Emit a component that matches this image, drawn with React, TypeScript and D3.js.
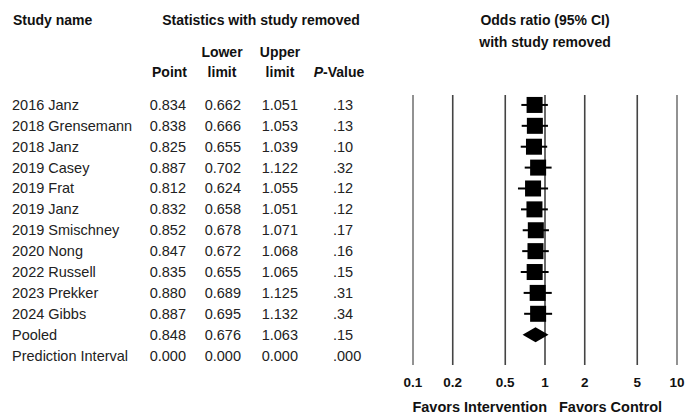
import React from "react";
import { scaleLog, scaleBand } from "d3";

const studies = [
  "2016 Janz",
  "2018 Grensemann",
  "2018 Janz",
  "2019 Casey",
  "2019 Frat",
  "2019 Janz",
  "2019 Smischney",
  "2020 Nong",
  "2022 Russell",
  "2023 Prekker",
  "2024 Gibbs",
  "Pooled",
  "Prediction Interval",
];
const pointVals = [0.834, 0.838, 0.825, 0.887, 0.812, 0.832, 0.852, 0.847, 0.835, 0.88, 0.887, 0.848, 0];
const lowerVals = [0.662, 0.666, 0.655, 0.702, 0.624, 0.658, 0.678, 0.672, 0.655, 0.689, 0.695, 0.676, 0];
const upperVals = [1.051, 1.053, 1.039, 1.122, 1.055, 1.051, 1.071, 1.068, 1.065, 1.125, 1.132, 1.063, 0];
const pLabels = [".13", ".13", ".10", ".32", ".12", ".12", ".17", ".16", ".15", ".31", ".34", ".15", ".000"];
const tickVals = [0.1, 0.2, 0.5, 1, 2, 5, 10];

const FONT = "'Liberation Sans', Arial, sans-serif";

export default function App() {
  const x = scaleLog().domain([0.1, 10]).range([413, 677]);
  const y = scaleBand<number>()
    .domain(studies.map((_, i) => i))
    .range([94.5, 366])
    .paddingInner(0)
    .paddingOuter(0);
  const rowY = (i: number) => (y(i) as number) + y.bandwidth() / 2;
  const box = 16;
  const fmt = (v: number) => v.toFixed(3);

  return (
    <svg
      width={689}
      height={417}
      style={{ position: "absolute", left: 0, top: 0, background: "#fff" }}
      fontFamily={FONT}
    >
      {/* headers */}
      <g fontWeight="bold" fontSize={14} fill="#111">
        <text x={13} y={25}>Study name</text>
        <text x={261} y={25} textAnchor="middle">Statistics with study removed</text>
        <text x={222} y={57} textAnchor="middle">Lower</text>
        <text x={280} y={57} textAnchor="middle">Upper</text>
        <text x={187} y={77} textAnchor="end">Point</text>
        <text x={222} y={77} textAnchor="middle">limit</text>
        <text x={280} y={77} textAnchor="middle">limit</text>
        <text x={339} y={77} textAnchor="middle">
          <tspan fontStyle="italic">P</tspan>-Value
        </text>
        <text x={545} y={25} textAnchor="middle">Odds ratio (95% CI)</text>
        <text x={545} y={47} textAnchor="middle">with study removed</text>
      </g>

      {/* table rows */}
      <g fontSize={14.5} fill="#222">
        {studies.map((s, i) => (
          <g key={s}>
            <text x={12} y={rowY(i) + 5}>{s}</text>
            <text x={186} y={rowY(i) + 5} textAnchor="end">{fmt(pointVals[i])}</text>
            <text x={241} y={rowY(i) + 5} textAnchor="end">{fmt(lowerVals[i])}</text>
            <text x={298} y={rowY(i) + 5} textAnchor="end">{fmt(upperVals[i])}</text>
            <text x={333} y={rowY(i) + 5}>{pLabels[i]}</text>
          </g>
        ))}
      </g>

      {/* reference lines */}
      {tickVals.map((t) => (
        <line
          key={t}
          x1={x(t)}
          x2={x(t)}
          y1={95}
          y2={365}
          stroke={t === 0.1 || t === 10 ? "#777" : "#444"}
          strokeWidth={1.6}
        />
      ))}

      {/* markers */}
      {studies.map((s, i) => {
        if (pointVals[i] <= 0) return null;
        const cy = rowY(i);
        if (s === "Pooled") {
          const xl = x(lowerVals[i]);
          const xu = x(upperVals[i]);
          const xp = x(pointVals[i]);
          return (
            <path
              key={s}
              d={`M${xl},${cy} L${xp},${cy - 7.5} L${xu},${cy} L${xp},${cy + 7.5} Z`}
              fill="#000"
            />
          );
        }
        return (
          <g key={s}>
            <line
              x1={x(lowerVals[i])}
              x2={x(upperVals[i])}
              y1={cy}
              y2={cy}
              stroke="#000"
              strokeWidth={2}
            />
            <rect
              x={x(pointVals[i]) - box / 2}
              y={cy - box / 2}
              width={box}
              height={box}
              fill="#000"
            />
          </g>
        );
      })}

      {/* axis labels */}
      <g fontWeight="bold" fill="#111">
        {tickVals.map((t) => (
          <text key={t} x={x(t)} y={387} textAnchor="middle" fontSize={13.5}>
            {String(t)}
          </text>
        ))}
        <text x={547} y={412} textAnchor="end" fontSize={14.5}>Favors Intervention</text>
        <text x={559} y={412} fontSize={14.5}>Favors Control</text>
      </g>
    </svg>
  );
}
